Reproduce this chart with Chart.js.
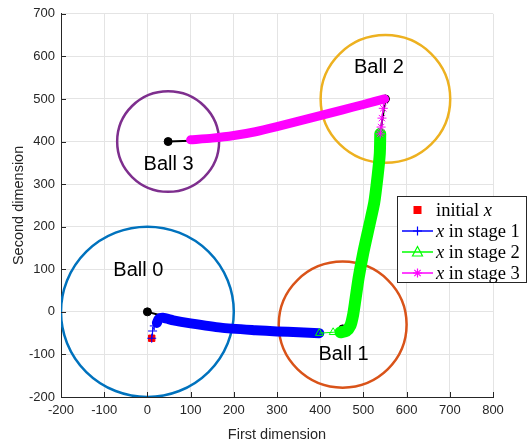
<!DOCTYPE html>
<html>
<head>
<meta charset="utf-8">
<script src="https://cdn.jsdelivr.net/npm/chart.js@4/dist/chart.umd.min.js"></script>
<style>
  html, body { margin: 0; padding: 0; background: #ffffff; }
  #wrap { width: 527px; height: 444px; }
</style>
</head>
<body>
<div id="wrap"><canvas id="c" width="527" height="444"></canvas></div>
<script>
// Axis ranges
const xMin = -200, xMax = 800, xStep = 100;
const yMin = -200, yMax = 700, yStep = 100;

// Balls: centres, radii, names
const ballNames = ['Ball 0', 'Ball 1', 'Ball 2', 'Ball 3'];
const ballCx = [0, 452, 551, 48];
const ballCy = [0, -30, 500, 400];
const ballR  = [200, 148, 150, 118];
const ballColors = ['#0072BD', '#D95319', '#EDB120', '#7E2F8E'];
// Anchor of each ball's name, in data units
const ballLabelX = [-21, 454, 536, 49];
const ballLabelY = [96, -101, 573, 346];

// Initial point
const initX = [10];
const initY = [-62];

// Stage 1: first iterates, then the dense run of iterates
const stage1X = [10, 12, 16, 22];
const stage1Y = [-62, -45, -33, -24];
const stage1BandX = [22, 26, 36, 60, 100, 170, 250, 300, 350, 398];
const stage1BandY = [-26, -17, -14, -20, -27, -37, -43, -46, -48, -50];

// Stage 2
const stage2X = [398, 430, 446];
const stage2Y = [-50, -48, -46];
const stage2BandX = [447, 460, 470, 476, 481, 489, 500, 513, 525, 533, 538, 539];
const stage2BandY = [-48, -45, -32, -8, 25, 80, 140, 200, 256, 320, 372, 418];

// Stage 3
const stage3X = [539, 541, 543, 546, 549];
const stage3Y = [418, 434, 455, 478, 496];
const stage3BandX = [549, 500, 450, 400, 350, 300, 250, 200, 150, 100];
const stage3BandY = [500, 487, 474, 461, 448, 435, 423, 414, 408, 404];

// Black links from each ball centre to where the iterates enter
const linkFromX = [0, 452, 551, 48];
const linkFromY = [0, -40, 500, 400];
const linkToX = [30, 455, 538, 100];
const linkToY = [-8, -45, 412, 402];

// Legend entries ($...$ = math italic)
const legendLabels = ['initial $x$', '$x$ in stage 1', '$x$ in stage 2', '$x$ in stage 3'];
const legendColors = ['#FF0000', '#0000FF', '#00FF00', '#FF00FF'];
const legendMarkers = ['rect', 'cross', 'triangle', 'star'];

const pts = (xs, ys) => xs.map((x, i) => ({ x: x, y: ys[i] }));

const base = { showLine: true, pointRadius: 0, pointHoverRadius: 0, fill: false, tension: 0.2,
               borderCapStyle: 'round', borderJoinStyle: 'round' };

// Listed bottom-to-top
const layers = [];
linkFromX.forEach((fx, i) => {
  layers.push(Object.assign({}, base, { label: 'link' + i, tension: 0,
    data: [{ x: fx, y: linkFromY[i] }, { x: linkToX[i], y: linkToY[i] }], borderColor: '#000000', borderWidth: 2 }));
});
layers.push(Object.assign({}, base, { label: 'centres', data: pts(linkFromX, linkFromY), showLine: false,
  pointStyle: 'circle', pointRadius: 4, backgroundColor: '#000000', borderColor: '#000000' }));
layers.push(
  Object.assign({}, base, { label: 'stage1 band', data: pts(stage1BandX, stage1BandY), borderColor: '#0000FF', borderWidth: 10 }),
  Object.assign({}, base, { label: 'initial', data: pts(initX, initY), showLine: false, pointStyle: 'rect',
    pointRadius: 4.5, backgroundColor: '#FF0000', borderColor: '#FF0000', borderWidth: 1 }),
  Object.assign({}, base, { label: 'stage1', data: pts(stage1X, stage1Y), borderColor: '#0000FF', borderWidth: 1,
    tension: 0, pointStyle: 'cross', pointRadius: 4.5, pointBorderColor: '#0000FF', pointBorderWidth: 1 }),
  Object.assign({}, base, { label: 'stage2 band', data: pts(stage2BandX, stage2BandY), borderColor: '#00FF00', borderWidth: 12 }),
  Object.assign({}, base, { label: 'stage2', data: pts(stage2X, stage2Y), borderColor: '#00FF00', borderWidth: 1,
    tension: 0, pointStyle: 'triangle', pointRadius: 4.5, pointBackgroundColor: 'rgba(0,0,0,0)',
    pointBorderColor: '#00FF00', pointBorderWidth: 1 }),
  Object.assign({}, base, { label: 'stage3 band', data: pts(stage3BandX, stage3BandY), borderColor: '#FF00FF', borderWidth: 9 }),
  Object.assign({}, base, { label: 'stage3', data: pts(stage3X, stage3Y), borderColor: '#FF00FF', borderWidth: 1,
    tension: 0, pointStyle: 'star', pointRadius: 4.5, pointBorderColor: '#FF00FF', pointBorderWidth: 1 })
);

const datasets = layers.map((d, i) => Object.assign(d, { order: layers.length - i }));

const INK = '#262626';

// Ball circles under the iterates
const ballPlugin = {
  id: 'balls',
  beforeDatasetsDraw(chart) {
    const { ctx, scales: { x, y }, chartArea: a } = chart;
    ctx.save();
    ctx.beginPath();
    ctx.rect(a.left, a.top, a.right - a.left, a.bottom - a.top);
    ctx.clip();
    ballCx.forEach((cx, i) => {
      const px = x.getPixelForValue(cx), py = y.getPixelForValue(ballCy[i]);
      const rx = Math.abs(x.getPixelForValue(cx + ballR[i]) - px);
      const ry = Math.abs(y.getPixelForValue(ballCy[i] + ballR[i]) - py);
      ctx.beginPath();
      ctx.ellipse(px, py, rx, ry, 0, 0, Math.PI * 2);
      ctx.strokeStyle = ballColors[i];
      ctx.lineWidth = 2.5;
      ctx.stroke();
    });
    ctx.restore();
  },
  afterDatasetsDraw(chart) {
    const { ctx, scales: { x, y } } = chart;
    ctx.save();
    ctx.font = '20px "Liberation Sans", Arial, sans-serif';
    ctx.fillStyle = '#000000';
    ctx.textAlign = 'center';
    ctx.textBaseline = 'middle';
    ballNames.forEach((n, i) => {
      ctx.fillText(n, x.getPixelForValue(ballLabelX[i]), y.getPixelForValue(ballLabelY[i]));
    });
    ctx.restore();
  }
};

// Inward tick marks on the left and bottom axes
const tickPlugin = {
  id: 'inTicks',
  afterDraw(chart) {
    const { ctx, scales: { x, y }, chartArea: a } = chart;
    ctx.save();
    ctx.strokeStyle = INK;
    ctx.lineWidth = 1;
    ctx.beginPath();
    for (let v = xMin; v <= xMax; v += xStep) {
      const px = Math.round(x.getPixelForValue(v)) + 0.5;
      ctx.moveTo(px, a.bottom); ctx.lineTo(px, a.bottom - 5);
    }
    for (let v = yMin; v <= yMax; v += yStep) {
      const py = Math.round(y.getPixelForValue(v)) + 0.5;
      ctx.moveTo(a.left, py); ctx.lineTo(a.left + 5, py);
    }
    ctx.stroke();
    ctx.restore();
  }
};

function drawMarker(ctx, kind, cx, cy, color) {
  ctx.save();
  ctx.strokeStyle = color;
  ctx.fillStyle = color;
  ctx.lineWidth = 1.2;
  const r = 4.5;
  ctx.beginPath();
  if (kind === 'rect') {
    ctx.fillRect(cx - 4, cy - 4, 8, 8);
  } else if (kind === 'cross') {
    ctx.moveTo(cx - r, cy); ctx.lineTo(cx + r, cy);
    ctx.moveTo(cx, cy - r); ctx.lineTo(cx, cy + r);
    ctx.stroke();
  } else if (kind === 'triangle') {
    ctx.moveTo(cx, cy - r - 1);
    ctx.lineTo(cx + r + 0.5, cy + r - 0.5);
    ctx.lineTo(cx - r - 0.5, cy + r - 0.5);
    ctx.closePath();
    ctx.stroke();
  } else if (kind === 'star') {
    ctx.moveTo(cx - r, cy); ctx.lineTo(cx + r, cy);
    ctx.moveTo(cx, cy - r); ctx.lineTo(cx, cy + r);
    const d = r * 0.7;
    ctx.moveTo(cx - d, cy - d); ctx.lineTo(cx + d, cy + d);
    ctx.moveTo(cx - d, cy + d); ctx.lineTo(cx + d, cy - d);
    ctx.stroke();
  }
  ctx.restore();
}

// Boxed legend with math-italic x
const legendPlugin = {
  id: 'boxLegend',
  afterDraw(chart) {
    const ctx = chart.ctx;
    const bx = 397.5, by = 196.5, bw = 129, bh = 86;
    ctx.save();
    ctx.fillStyle = '#ffffff';
    ctx.fillRect(bx, by, bw, bh);
    ctx.strokeStyle = INK;
    ctx.lineWidth = 1;
    ctx.strokeRect(bx, by, bw, bh);
    legendLabels.forEach((lab, i) => {
      const cy = 210 + i * 21;
      if (legendMarkers[i] !== 'rect') {
        ctx.strokeStyle = legendColors[i];
        ctx.lineWidth = 1.5;
        ctx.beginPath();
        ctx.moveTo(402, cy); ctx.lineTo(433, cy);
        ctx.stroke();
      }
      drawMarker(ctx, legendMarkers[i], 417.5, cy, legendColors[i]);
      let tx = 436;
      ctx.fillStyle = '#000000';
      ctx.textBaseline = 'middle';
      ctx.textAlign = 'left';
      lab.split('$').forEach((part, k) => {
        if (!part) return;
        ctx.font = (k % 2 ? 'italic ' : '') + '18.5px "Liberation Serif", "Times New Roman", serif';
        ctx.fillText(part, tx, cy + 1);
        tx += ctx.measureText(part).width;
      });
    });
    ctx.restore();
  }
};

const tickFont = { family: '"Liberation Sans", Arial, sans-serif', size: 13 };

new Chart(document.getElementById('c'), {
  type: 'scatter',
  data: { datasets: datasets },
  options: {
    responsive: false,
    animation: false,
    events: [],
    layout: { padding: { top: 8, right: 34, left: 0, bottom: 0 } },
    plugins: { legend: { display: false }, tooltip: { enabled: false } },
    scales: {
      x: {
        type: 'linear', min: xMin, max: xMax,
        ticks: { stepSize: xStep, color: INK, font: tickFont, padding: 6, maxRotation: 0 },
        grid: { color: '#e4e4e4', lineWidth: 1, drawTicks: false },
        border: { display: true, color: INK, width: 1 },
        title: { display: true, text: 'First dimension', color: INK,
                 font: { family: '"Liberation Sans", Arial, sans-serif', size: 14.5 }, padding: { top: 2, bottom: 0 } },
        afterFit(s) { s.height = 47; }
      },
      y: {
        type: 'linear', min: yMin, max: yMax,
        ticks: { stepSize: yStep, color: INK, font: tickFont, padding: 6 },
        grid: { color: '#e4e4e4', lineWidth: 1, drawTicks: false },
        border: { display: true, color: INK, width: 1 },
        title: { display: true, text: 'Second dimension', color: INK,
                 font: { family: '"Liberation Sans", Arial, sans-serif', size: 14.5 }, padding: { top: 10, bottom: 0 } },
        afterFit(s) { s.width = 61; }
      }
    }
  },
  plugins: [ballPlugin, tickPlugin, legendPlugin]
});
</script>
</body>
</html>
